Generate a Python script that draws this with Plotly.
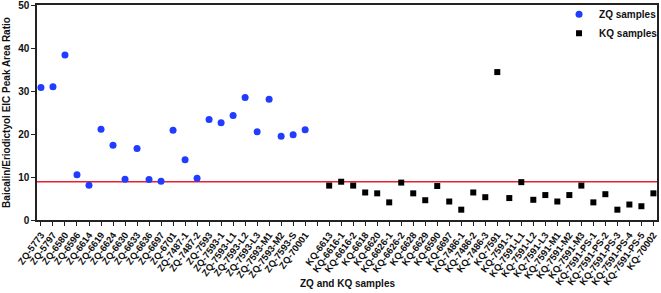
import plotly.graph_objects as go

zq_labels = ["ZQ-5773", "ZQ-5797", "ZQ-6580", "ZQ-6596", "ZQ-6614", "ZQ-6619", "ZQ-6624",
             "ZQ-6630", "ZQ-6633", "ZQ-6636", "ZQ-6697", "ZQ-6701", "ZQ-7487-1", "ZQ-7487-2",
             "ZQ-7593", "ZQ-7593-1", "ZQ-7593-L1", "ZQ-7593-L2", "ZQ-7593-L3", "ZQ-7593-M1",
             "ZQ-7593-M2", "ZQ-7593-S", "ZQ-70001"]
zq_values = [30.8, 31.0, 38.4, 10.5, 8.1, 21.1, 17.4, 9.5, 16.6, 9.4, 9.0, 20.9, 14.0, 9.7,
             23.4, 22.6, 24.3, 28.5, 20.5, 28.1, 19.5, 19.8, 21.0]

kq_labels = ["KQ-6613", "KQ-6616-1", "KQ-6616-2", "KQ-6618", "KQ-6620", "KQ-6626-1", "KQ-6626-2",
             "KQ-6628", "KQ-6629", "KQ-6590", "KQ-6697", "KQ-7486-1", "KQ-7486-2", "KQ-7486-3",
             "KQ-7591", "KQ-7591-1", "KQ-7591-L1", "KQ-7591-L2", "KQ-7591-L3", "KQ-7591-M1",
             "KQ-7591-M2", "KQ-7591-M3", "KQ-7591-PS-1", "KQ-7591-PS-2", "KQ-7591-PS-3",
             "KQ-7591-PS-4", "KQ-7591-PS-5", "KQ-70002"]
kq_values = [8.0, 8.9, 8.0, 6.4, 6.2, 4.1, 8.7, 6.2, 4.6, 7.9, 4.3, 2.4, 6.4, 5.3, 34.4, 5.1,
             8.8, 4.7, 5.8, 4.3, 5.8, 8.0, 4.1, 6.0, 2.4, 3.6, 3.2, 6.2]

threshold = 8.9
gap_label = "_gap_"
categories = zq_labels + [gap_label] + kq_labels
tick_text = zq_labels + [""] + kq_labels

font_family = "Liberation Sans, Arial, sans-serif"

fig = go.Figure()
fig.add_trace(go.Scatter(x=zq_labels, y=zq_values, mode="markers", name="ZQ samples",
                         marker=dict(symbol="circle", size=7, color="#1f3cff")))
fig.add_trace(go.Scatter(x=kq_labels, y=kq_values, mode="markers", name="KQ samples",
                         marker=dict(symbol="square", size=6, color="#000000")))

fig.add_shape(type="line", xref="paper", x0=0, x1=1, yref="y", y0=threshold, y1=threshold,
              line=dict(color="#e8202e", width=1.5), layer="below")

fig.update_layout(
    width=661, height=293,
    margin=dict(l=37, r=4, t=5, b=73, autoexpand=False),
    plot_bgcolor="white", paper_bgcolor="white",
    font=dict(family=font_family, color="#111111"),
    showlegend=True,
    legend=dict(x=0.842, y=1.025, xanchor="left", yanchor="top", bgcolor="rgba(0,0,0,0)",
                font=dict(size=10, family=font_family, color="#111111", weight="bold"),
                itemwidth=30, tracegroupgap=0),
    xaxis=dict(type="category", categoryorder="array", categoryarray=categories,
               tickmode="array", tickvals=categories, ticktext=tick_text,
               range=[-0.33, len(categories) - 1 + 0.3], automargin=False,
               showline=True, linecolor="#222222", linewidth=1.5, mirror=True,
               ticks="outside", ticklen=4, tickwidth=1, tickcolor="#222222",
               tickangle=-54, tickfont=dict(size=9.5, family=font_family, weight="bold"),
               ticklabeloverflow="allow",
               showgrid=False, zeroline=False),
    yaxis=dict(range=[0, 50], tickvals=[0, 10, 20, 30, 40, 50], automargin=False,
               showline=True, linecolor="#222222", linewidth=1.5, mirror=True,
               ticks="outside", ticklen=4, tickwidth=1, tickcolor="#222222",
               tickfont=dict(size=10, family=font_family, weight="bold"),
               ticklabeloverflow="allow",
               showgrid=False, zeroline=False,
               title=dict(text="Baicalin/Eriodictyol EIC Peak Area Ratio", standoff=6,
                          font=dict(size=10, family=font_family, weight="bold"))),
    annotations=[dict(text="ZQ and KQ samples", xref="paper", yref="paper", x=0.5, y=0,
                      yshift=-63, showarrow=False, xanchor="center", yanchor="middle",
                      font=dict(size=10, family=font_family, weight="bold", color="#111111"))],
)

fig.write_html("out.html", config={"displayModeBar": False},
               post_script="document.body.style.margin='0';document.body.style.padding='0';"
                           "document.body.style.overflow='hidden';")
